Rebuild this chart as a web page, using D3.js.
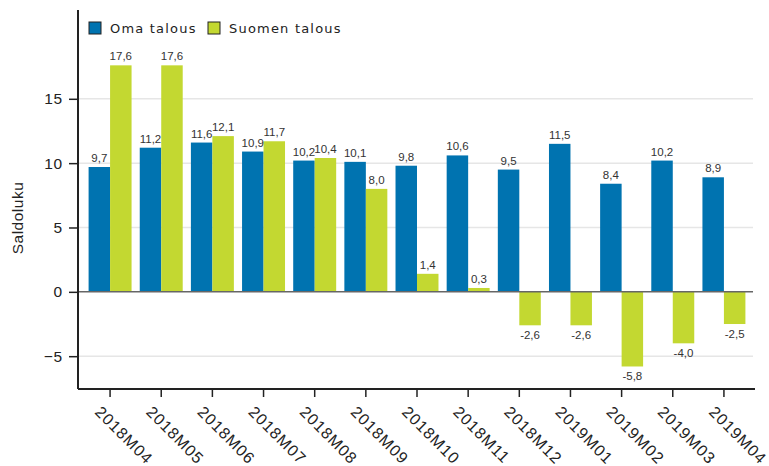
<!DOCTYPE html>
<html>
<head>
<meta charset="utf-8">
<script src="https://cdn.jsdelivr.net/npm/d3@7"></script>
<style>
body { margin: 0; background: #fff; }
svg { display: block; font-family: "Liberation Sans", Arial, sans-serif; }
</style>
</head>
<body>
<script>
var months = ["2018M04", "2018M05", "2018M06", "2018M07", "2018M08", "2018M09", "2018M10",
              "2018M11", "2018M12", "2019M01", "2019M02", "2019M03", "2019M04"];
var omaTalous = [9.7, 11.2, 11.6, 10.9, 10.2, 10.1, 9.8, 10.6, 9.5, 11.5, 8.4, 10.2, 8.9];
var suomenTalous = [17.6, 17.6, 12.1, 11.7, 10.4, 8.0, 1.4, 0.3, -2.6, -2.6, -5.8, -4.0, -2.5];
var seriesNames = ["Oma talous", "Suomen talous"];
var yTicks = [-5, 0, 5, 10, 15];

var colors = ["#0073b0", "#c3d831"];

var width = 769, height = 466;
var plotLeft = 78, plotRight = 755, plotTop = 10, plotBottom = 389;
var font = "Liberation Sans, Arial, sans-serif";

var svg = d3.select("body").append("svg")
    .attr("width", width)
    .attr("height", height);

var yScale = d3.scaleLinear().domain([-7.55, 21.9]).range([plotBottom, plotTop]);
var xScale = d3.scaleBand().domain(months).range([84.5, 749.5]).paddingInner(0.16).paddingOuter(0.08);
var xSub = d3.scaleBand().domain(seriesNames).range([0, xScale.bandwidth()]);

// grid lines
svg.append("g")
    .selectAll("line")
    .data(yTicks.filter(function(d){ return d != 0; }))
    .enter().append("line")
    .attr("x1", plotLeft)
    .attr("x2", plotRight - 2)
    .attr("y1", function(d){ return yScale(d); })
    .attr("y2", function(d){ return yScale(d); })
    .attr("stroke", "#e6e6e6")
    .attr("stroke-width", 1.5);

var data = months.map(function(m, i){
    return {month: m, values: [omaTalous[i], suomenTalous[i]]};
});

var groups = svg.append("g").selectAll("g")
    .data(data)
    .enter().append("g")
    .attr("transform", function(d){ return "translate(" + xScale(d.month) + ",0)"; });

groups.selectAll("rect")
    .data(function(d){ return d.values.map(function(v, j){ return {name: seriesNames[j], value: v, j: j}; }); })
    .enter().append("rect")
    .attr("x", function(d){ return xSub(d.name); })
    .attr("width", xSub.bandwidth())
    .attr("y", function(d){ return yScale(Math.max(0, d.value)); })
    .attr("height", function(d){ return Math.abs(yScale(d.value) - yScale(0)); })
    .attr("fill", function(d){ return colors[d.j]; });

groups.selectAll("text")
    .data(function(d){ return d.values.map(function(v, j){ return {name: seriesNames[j], value: v, j: j}; }); })
    .enter().append("text")
    .attr("x", function(d){ return xSub(d.name) + xSub.bandwidth() / 2; })
    .attr("y", function(d){ return d.value >= 0 ? yScale(d.value) - 5 : yScale(d.value) + 14; })
    .attr("text-anchor", "middle")
    .attr("font-size", "11.5px")
    .attr("font-family", font)
    .attr("fill", "#333")
    .text(function(d){ return d3.format(".1f")(d.value).replace(".", ",").replace("−", "-"); });

// zero line
svg.append("line")
    .attr("x1", plotLeft)
    .attr("x2", plotRight - 2)
    .attr("y1", yScale(0))
    .attr("y2", yScale(0))
    .attr("stroke", "#666")
    .attr("stroke-width", 1.5);

// y axis
var yAxis = svg.append("g")
    .attr("transform", "translate(" + plotLeft + ",0)")
    .call(d3.axisLeft(yScale).tickValues(yTicks).tickSize(9).tickPadding(6).tickSizeOuter(0));
yAxis.select(".domain").attr("stroke", "#222").attr("stroke-width", 2)
    .attr("d", "M0," + plotTop + "V" + plotBottom);
yAxis.selectAll(".tick line").attr("stroke", "#222").attr("stroke-width", 1.5);
yAxis.selectAll(".tick text").attr("font-size", "15.5px").attr("fill", "#222")
    .attr("letter-spacing", "0.8px")
    .attr("font-family", font);

// x axis
var xAxis = svg.append("g")
    .attr("transform", "translate(0," + plotBottom + ")")
    .call(d3.axisBottom(xScale).tickSize(8).tickSizeOuter(0));
xAxis.select(".domain").attr("stroke", "#222").attr("stroke-width", 2)
    .attr("d", "M" + plotLeft + ",0H" + plotRight);
xAxis.selectAll(".tick line").attr("stroke", "#222").attr("stroke-width", 1.5);
xAxis.selectAll(".tick text")
    .attr("font-size", "16px")
    .attr("letter-spacing", "1px")
    .attr("fill", "#222")
    .attr("font-family", font)
    .attr("text-anchor", "start")
    .attr("dy", null)
    .attr("y", 0)
    .attr("transform", "translate(-16,24) rotate(45)");

// y axis title
svg.append("text")
    .attr("transform", "translate(23,218) rotate(-90)")
    .attr("text-anchor", "middle")
    .attr("font-size", "15.5px")
    .attr("letter-spacing", "0.5px")
    .attr("fill", "#222")
    .text("Saldoluku");

// legend
var legendX = [89, 208];
var legend = svg.append("g").selectAll("g")
    .data(seriesNames)
    .enter().append("g")
    .attr("transform", function(d, i){ return "translate(" + legendX[i] + ",22)"; });
legend.append("rect")
    .attr("width", 12)
    .attr("height", 12)
    .attr("fill", function(d, i){ return colors[i]; })
    .attr("stroke", "#222")
    .attr("stroke-width", 1);
legend.append("text")
    .attr("x", 21)
    .attr("y", 11)
    .attr("font-size", "13px")
    .attr("font-family", "DejaVu Sans, Verdana, sans-serif")
    .attr("letter-spacing", "1.2px")
    .attr("fill", "#222")
    .text(function(d){ return d; });
</script>
</body>
</html>
